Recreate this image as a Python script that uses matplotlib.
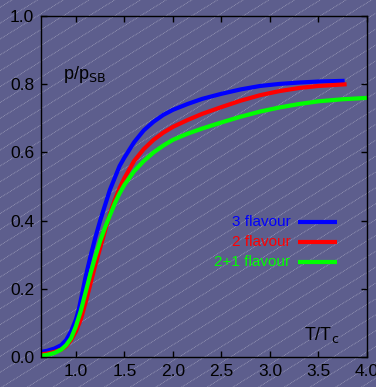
import numpy as np
import matplotlib
matplotlib.use("Agg")
import matplotlib.pyplot as plt
from matplotlib.lines import Line2D

# p/p_SB vs T/Tc
t_3f = [0.64, 0.7, 0.78, 0.85, 0.9, 0.95, 1.0, 1.03, 1.06, 1.1, 1.15, 1.2, 1.25, 1.3, 1.35,
        1.4, 1.45, 1.5, 1.6, 1.7, 1.8, 1.9, 2.0, 2.15, 2.3, 2.5, 2.7, 2.9, 3.1, 3.3, 3.5, 3.77]
p_3f = [0.015, 0.018, 0.025, 0.035, 0.05, 0.075, 0.11, 0.14, 0.18, 0.235, 0.295, 0.35, 0.40,
        0.445, 0.49, 0.525, 0.56, 0.585, 0.63, 0.665, 0.69, 0.71, 0.725, 0.742, 0.757, 0.772,
        0.785, 0.795, 0.801, 0.805, 0.808, 0.81]

t_2f = [0.64, 0.7, 0.78, 0.85, 0.9, 0.95, 1.0, 1.05, 1.1, 1.15, 1.2, 1.25, 1.3, 1.35, 1.4,
        1.45, 1.5, 1.6, 1.7, 1.8, 1.9, 2.0, 2.15, 2.3, 2.5, 2.7, 2.9, 3.1, 3.3, 3.5, 3.79]
p_2f = [0.008, 0.01, 0.015, 0.022, 0.032, 0.05, 0.075, 0.11, 0.16, 0.215, 0.27, 0.32, 0.37,
        0.42, 0.46, 0.495, 0.525, 0.575, 0.61, 0.637, 0.658, 0.675, 0.695, 0.713, 0.733,
        0.752, 0.768, 0.78, 0.789, 0.795, 0.80]

t_21f = [0.64, 0.7, 0.78, 0.85, 0.9, 0.95, 1.0, 1.05, 1.1, 1.15, 1.2, 1.25, 1.3, 1.35, 1.4,
         1.45, 1.5, 1.6, 1.7, 1.8, 1.9, 2.0, 2.15, 2.3, 2.5, 2.7, 2.9, 3.1, 3.3, 3.5, 3.75, 4.0]
p_21f = [0.004, 0.006, 0.012, 0.022, 0.035, 0.055, 0.09, 0.135, 0.19, 0.245, 0.295, 0.34,
         0.38, 0.415, 0.45, 0.48, 0.505, 0.545, 0.575, 0.60, 0.62, 0.637, 0.655, 0.67, 0.688,
         0.705, 0.72, 0.732, 0.742, 0.75, 0.756, 0.76]

labels = ["3 flavour", "2 flavour", "2+1 flavour"]
colors = ["#0000ff", "#ff0000", "#00ff00"]
xticks = [1.0, 1.5, 2.0, 2.5, 3.0, 3.5, 4.0]
yticks = [0.0, 0.2, 0.4, 0.6, 0.8, 1.0]

bg = "#5d5e8d"
plt.rcParams['font.family'] = ['Liberation Sans', 'DejaVu Sans']

fig = plt.figure(figsize=(3.76, 3.87), dpi=100, facecolor=bg)

# fine dotted diagonal lines over the background
for y0 in np.arange(-0.7, 1.05, 0.041):
    fig.add_artist(Line2D([0, 1], [y0, y0 + 0.60], transform=fig.transFigure,
                          color="white", lw=0.6, alpha=0.4, ls=(0, (1, 1)), zorder=0))

ax = fig.add_axes([0.109, 0.0775, 0.867, 0.881])
ax.set_facecolor("none")

ax.plot(t_3f, p_3f, color=colors[0], lw=3, solid_capstyle="butt")
ax.plot(t_2f, p_2f, color=colors[1], lw=3, solid_capstyle="butt")
ax.plot(t_21f, p_21f, color=colors[2], lw=3, solid_capstyle="butt")

ax.set_xlim(0.64, 4.0)
ax.set_ylim(0.0, 1.0)
ax.set_xticks(xticks)
ax.set_yticks(yticks)
ax.set_xticklabels([f"{v:.1f}" for v in xticks])
ax.set_yticklabels([f"{v:.1f}" for v in yticks])
ax.tick_params(direction="in", length=4, width=1, top=True, right=True,
               labelsize=12.5, colors="black", pad=5)
for s in ax.spines.values():
    s.set_color("black")
    s.set_linewidth(1)

# hand-made legend
leg_y = [0.396, 0.337, 0.279]
for lab, c, y in zip(labels, colors, leg_y):
    ax.text(3.21, y, lab, color=c, fontsize=11, ha="right", va="center")
    ax.plot([3.29, 3.69], [y, y], color=c, lw=3, solid_capstyle="butt")

ax.text(0.87, 0.83, r"p/p$_{\mathrm{SB}}$", fontsize=13, color="black", va="center")
ax.text(3.35, 0.065, r"T/T$_{\mathrm{c}}$", fontsize=13, color="black", va="center")

fig.savefig("out.png", dpi=100, facecolor=bg)
